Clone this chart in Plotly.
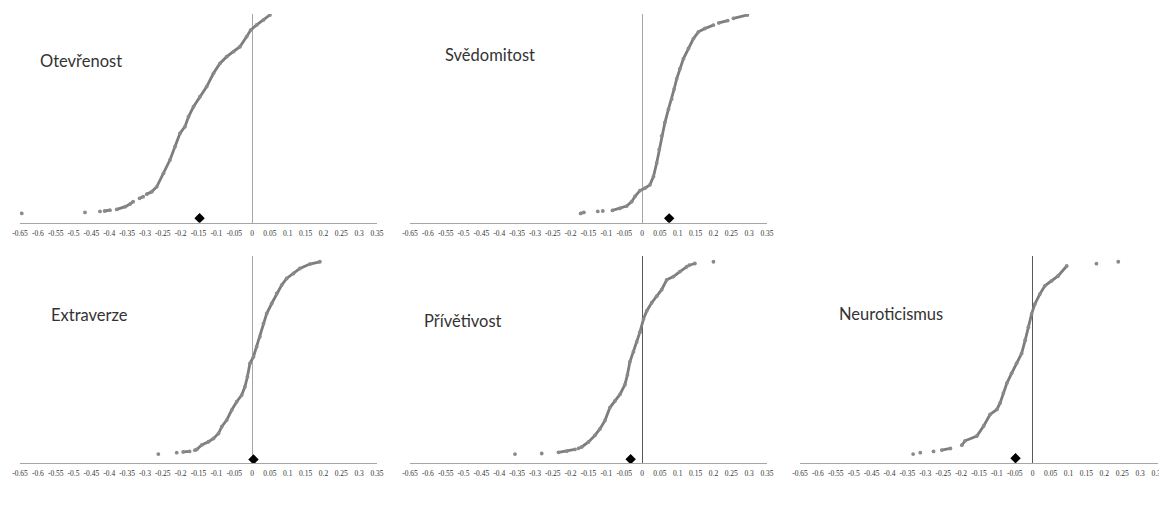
import plotly.graph_objects as go

# Figure size chosen so that, with the page's 8px body margin, the whole
# figure fits in the 1167x512 window without scrollbars.
W, H = 1159, 484
OFF = 8

TRAITS = ["Otevřenost", "Svědomitost", "Extraverze", "Přívětivost", "Neuroticismus"]

TICK_VALS = [-0.65, -0.6, -0.55, -0.5, -0.45, -0.4, -0.35, -0.3, -0.25, -0.2, -0.15,
             -0.1, -0.05, 0, 0.05, 0.1, 0.15, 0.2, 0.25, 0.3, 0.35]
TICK_LABELS = ["-0.65", "-0.6", "-0.55", "-0.5", "-0.45", "-0.4", "-0.35", "-0.3", "-0.25",
               "-0.2", "-0.15", "-0.1", "-0.05", "0", "0.05", "0.1", "0.15", "0.2", "0.25",
               "0.3", "0.35"]

# Otevřenost
open_x = [-0.645, None, -0.468, None, -0.426, None, -0.413, -0.398, None, -0.379, -0.355, -0.342,
          -0.333, None, -0.315, -0.305, None, -0.295, -0.281, -0.267, -0.248, -0.23, -0.216, -0.202,
          -0.188, -0.178, -0.164, -0.146, -0.127, -0.108, -0.090, -0.071, -0.052, -0.034, -0.015,
          -0.004, 0.013, 0.032, 0.050]
open_y = [0.0, None, 0.005, None, 0.010, None, 0.012, 0.016, None, 0.020, 0.034, 0.047,
          0.059, None, 0.076, 0.084, None, 0.097, 0.109, 0.134, 0.202, 0.269, 0.336, 0.403,
          0.437, 0.487, 0.538, 0.588, 0.639, 0.706, 0.756, 0.790, 0.815, 0.840, 0.891,
          0.924, 0.950, 0.975, 1.0]

# Svědomitost
cons_x = [-0.172, -0.163, None, -0.124, None, -0.110, None, -0.083, -0.062, -0.043, -0.029, -0.020,
          -0.006, 0.008, 0.022, 0.032, 0.041, 0.048, 0.055, 0.064, 0.074, 0.083, 0.090, 0.097,
          0.106, 0.116, 0.130, 0.144, 0.158, 0.176, 0.200, None, 0.215, 0.240, None, 0.256, 0.295]
cons_y = [0.0, 0.005, None, 0.010, None, 0.012, None, 0.015, 0.025, 0.037, 0.059, 0.085,
          0.115, 0.127, 0.144, 0.186, 0.254, 0.322, 0.390, 0.458, 0.525, 0.576, 0.627, 0.678,
          0.729, 0.780, 0.831, 0.881, 0.915, 0.932, 0.949, None, 0.960, 0.972, None, 0.983, 1.0]

# Extraverze
extra_x = [-0.2625, None, -0.211, None, -0.193, -0.175, None, -0.160, -0.155, -0.141, -0.122,
           -0.108, -0.094, -0.085, -0.071, -0.057, -0.043, -0.029, -0.020, -0.013, -0.006,
           0.004, 0.013, 0.022, 0.032, 0.041, 0.055, 0.069, 0.083, 0.097, 0.116, 0.134,
           0.162, 0.190]
extra_y = [0.0, None, 0.007, None, 0.011, 0.014, None, 0.020, 0.024, 0.047, 0.064,
           0.081, 0.107, 0.142, 0.177, 0.229, 0.272, 0.307, 0.350, 0.402, 0.471,
           0.506, 0.558, 0.610, 0.679, 0.731, 0.783, 0.835, 0.879, 0.913, 0.939, 0.965,
           0.988, 1.0]

# Přívětivost
agree_x = [-0.356, None, -0.281, None, -0.234, -0.211, -0.188, None, -0.178, -0.169, -0.150,
           -0.132, -0.118, -0.104, -0.090, -0.076, -0.062, -0.048, -0.041, -0.034, -0.024,
           -0.015, -0.006, 0.004, 0.013, 0.027, 0.041, 0.055, 0.069, 0.088, 0.106, 0.125,
           None, 0.132, 0.148, None, 0.200]
agree_y = [0.0, None, 0.003, None, 0.009, 0.015, 0.024, None, 0.030, 0.037, 0.063,
           0.097, 0.131, 0.174, 0.242, 0.276, 0.310, 0.361, 0.412, 0.480, 0.532,
           0.583, 0.634, 0.702, 0.744, 0.787, 0.821, 0.855, 0.906, 0.923, 0.949, 0.974,
           None, 0.982, 0.991, None, 1.0]

# Neuroticismus
neuro_x = [-0.334, None, -0.314, None, -0.277, None, -0.254, -0.230, None, -0.198, -0.189, -0.156,
           -0.137, -0.119, -0.100, -0.091, -0.082, -0.072, -0.059, -0.045, -0.031, -0.021,
           -0.012, -0.003, 0.006, 0.020, 0.034, 0.053, 0.071, 0.095, None, 0.178, None, 0.239]
neuro_y = [0.0, None, 0.007, None, 0.014, None, 0.021, 0.029, None, 0.046, 0.069, 0.094,
           0.146, 0.206, 0.232, 0.266, 0.317, 0.369, 0.420, 0.472, 0.523, 0.592,
           0.660, 0.729, 0.780, 0.832, 0.875, 0.901, 0.926, 0.978, None, 0.990, None, 1.0]

# Black diamond marker per trait (x, y)
MEAN_X = [-0.147, 0.076, 0.004, -0.032, -0.048]
MEAN_Y = [-0.024, -0.025, -0.028, -0.027, -0.022]

SERIES_X = [open_x, cons_x, extra_x, agree_x, neuro_x]
SERIES_Y = [open_y, cons_y, extra_y, agree_y, neuro_y]

# ---- layout geometry (window pixels) ----
col_px = [(20, 377), (410, 767), (800, 1158)]
row_px = [(14, 222.7), (256, 463.3)]
panel_pos = [(0, 0), (0, 1), (1, 0), (1, 1), (1, 2)]
yranges = [[-0.047, 1.005], [-0.048, 1.03]]
zero_colors = ["#a6a6a6", "#a6a6a6", "#a6a6a6", "#595959", "#595959"]
label_px = [(38, 61), (443, 55), (49, 315), (422, 321), (837, 314)]

fig = go.Figure()
layout = dict(
    width=W, height=H,
    margin=dict(l=0, r=0, t=0, b=0, pad=0, autoexpand=False),
    paper_bgcolor="white", plot_bgcolor="white",
    showlegend=False,
    annotations=[],
)

for i in range(5):
    r, c = panel_pos[i]
    sfx = "" if i == 0 else str(i + 1)
    xa, ya = "x" + sfx, "y" + sfx
    fig.add_trace(go.Scatter(
        x=SERIES_X[i], y=SERIES_Y[i], xaxis=xa, yaxis=ya,
        mode="lines+markers", connectgaps=False,
        line=dict(color="#7d7d7d", width=2.8),
        marker=dict(color="#8a8a8a", size=3.8),
        hoverinfo="skip",
    ))
    fig.add_trace(go.Scatter(
        x=[MEAN_X[i]], y=[MEAN_Y[i]], xaxis=xa, yaxis=ya,
        mode="markers",
        marker=dict(color="black", size=8, symbol="diamond"),
        hoverinfo="skip",
    ))
    x0, x1 = col_px[c]
    y0, y1 = row_px[r]
    x0, x1, y0, y1 = x0 - OFF, x1 - OFF, y0 - OFF, y1 - OFF
    layout["xaxis" + sfx] = dict(
        domain=[x0 / W, min(x1 / W, 1.0)], anchor=ya, range=[-0.65, 0.35],
        tickmode="array", tickvals=TICK_VALS, ticktext=TICK_LABELS,
        tickfont=dict(family="Liberation Sans Narrow", size=7.5, color="#333333"),
        showgrid=False, showline=True, linecolor="#a6a6a6", linewidth=1,
        ticks="outside", ticklen=3, tickcolor="rgba(0,0,0,0)",
        ticklabeloverflow="allow",
        zeroline=True, zerolinecolor=zero_colors[i], zerolinewidth=1,
        showticklabels=True, automargin=False,
    )
    layout["yaxis" + sfx] = dict(
        domain=[1 - y1 / H, 1 - y0 / H], anchor=xa, range=yranges[r],
        visible=False, showgrid=False, zeroline=False, automargin=False,
    )
    lx, ly = label_px[i]
    layout["annotations"].append(dict(
        text=TRAITS[i], x=(lx - OFF) / W, y=1 - (ly - OFF) / H, xref="paper", yref="paper",
        xanchor="left", yanchor="middle", showarrow=False,
        font=dict(family="Lato", size=16.5, color="#333333"),
    ))

fig.update_layout(**layout)
fig.write_html("out.html")
